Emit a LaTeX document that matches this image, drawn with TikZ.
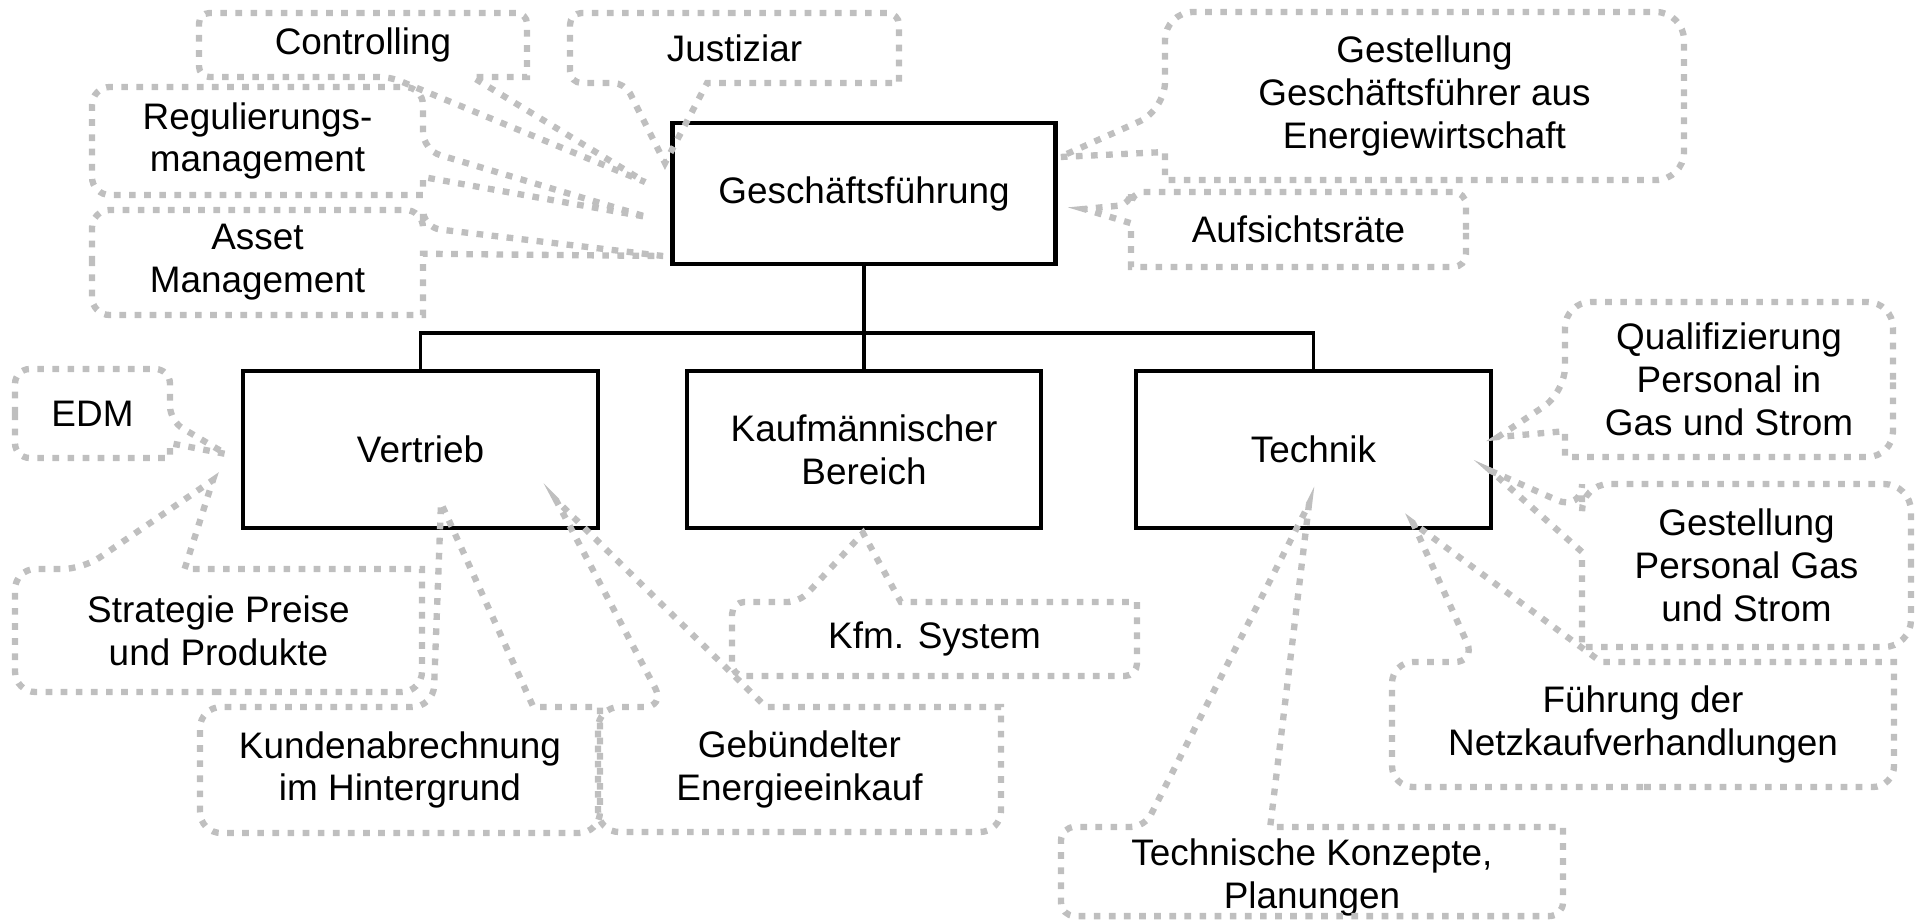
\documentclass[tikz,border=0pt]{standalone}
\usepackage{fontspec}
\setmainfont{Liberation Sans}
\usetikzlibrary{calc}

\tikzset{
  orgbox/.style={draw, line width=1.2pt, align=center, inner sep=0pt, outer sep=0pt},
  tree/.style={line width=1.1pt},
  calltext/.style={align=center, inner sep=0pt, outer sep=0pt},
  callline/.style={draw=black!25, line width=1.8pt, dash pattern=on 1.9pt off 2.4pt},
}

\begin{document}
\begin{tikzpicture}[x=0.1mm, y=-0.1mm, font=\fontsize{10.5}{12.2}\selectfont]
    \useasboundingbox (0,0) rectangle (1918,920);

    % the four boxes of the chart
    \node[orgbox, minimum width=38.3mm, minimum height=14.1mm] (gf) at (864,193.5) {Geschäftsführung};
    \node[orgbox, minimum width=35.5mm, minimum height=15.7mm] (vertrieb) at (420.5,449.5) {Vertrieb};
    \node[orgbox, minimum width=35.4mm, minimum height=15.7mm] (kfm) at (864,449.5) {Kaufmännischer\\Bereich};
    \node[orgbox, minimum width=35.5mm, minimum height=15.7mm] (technik) at (1313.5,449.5) {Technik};

    \draw[tree] (gf.south) -- (kfm.north);
    \draw[tree] (vertrieb.north) -- ++(0,-38) -| (technik.north);

    % callouts round Geschaeftsfuehrung
    \node[calltext, minimum width=32.8mm, minimum height=6.4mm] (ctrl) at (363,45) {Controlling};
    \coordinate (ctrltip) at (645,182);
    \draw[callline] (ctrl.north) [rounded corners=3pt] -| (ctrl.south west)
      -- ($(ctrl.south west)!7/12!(ctrl.south east)$) [sharp corners] -- (ctrltip)
      -- ($(ctrl.south west)!10/12!(ctrl.south east)$) -- (ctrl.south east)
      [rounded corners=3pt] |- (ctrl.north);

    \node[calltext, minimum width=32.9mm, minimum height=7mm] (just) at (734.5,48) {Justiziar};
    \coordinate (justtip) at (665,163);
    \draw[callline] (just.north) [rounded corners=3.3pt] -| (just.south west)
      -- ($(just.south west)!2/12!(just.south east)$) [sharp corners] -- (justtip)
      -- ($(just.south west)!5/12!(just.south east)$) -- (just.south east)
      [rounded corners=3.3pt] |- (just.north);

    \node[calltext, minimum width=33.1mm, minimum height=10.8mm] (reg) at (257.5,141) {Regulierungs-\\management};
    \coordinate (regtip) at (647,217);
    \draw[callline] (reg.west) [rounded corners=5.1pt] |- (reg.north east)
      -- ($(reg.north east)!7/12!(reg.south east)$) [sharp corners] -- (regtip)
      -- ($(reg.north east)!10/12!(reg.south east)$) -- (reg.south east)
      [rounded corners=5.1pt] -| (reg.west);

    \node[calltext, minimum width=33.1mm, minimum height=10.5mm] (asset) at (257.5,262.5) {Asset\\Management};
    \coordinate (assettip) at (663,256);
    \draw[callline] (asset.west) [rounded corners=5pt] |- (asset.north east)
      -- ($(asset.north east)!2/12!(asset.south east)$) [sharp corners] -- (assettip)
      -- ($(asset.north east)!5/12!(asset.south east)$) -- (asset.south east)
      [rounded corners=5pt] -| (asset.west);

    \node[calltext, minimum width=51.9mm, minimum height=16.8mm] (gestgf) at (1424.5,96) {Gestellung\\Geschäftsführer aus\\Energiewirtschaft};
    \coordinate (gestgftip) at (1060,157);
    \draw[callline] (gestgf.east) [rounded corners=8pt] |- (gestgf.north west)
      -- ($(gestgf.north west)!7/12!(gestgf.south west)$) [sharp corners] -- (gestgftip)
      -- ($(gestgf.north west)!10/12!(gestgf.south west)$) -- (gestgf.south west)
      [rounded corners=8pt] -| (gestgf.east);

    \node[calltext, minimum width=33.5mm, minimum height=7.5mm] (aufs) at (1298.5,229.5) {Aufsichtsräte};
    \coordinate (aufstip) at (1084,209);
    \draw[callline] (aufs.east) [rounded corners=3.6pt] |- (aufs.north west)
      -- ($(aufs.north west)!2/12!(aufs.south west)$) [sharp corners] -- (aufstip)
      -- ($(aufs.north west)!5/12!(aufs.south west)$) -- (aufs.south west)
      [rounded corners=3.6pt] -| (aufs.east);

    % callouts round Vertrieb
    \node[calltext, minimum width=15.5mm, minimum height=8.9mm] (edm) at (92.5,413.5) {EDM};
    \coordinate (edmtip) at (226,454);
    \draw[callline] (edm.west) [rounded corners=4.2pt] |- (edm.north east)
      -- ($(edm.north east)!7/12!(edm.south east)$) [sharp corners] -- (edmtip)
      -- ($(edm.north east)!10/12!(edm.south east)$) -- (edm.south east)
      [rounded corners=4.2pt] -| (edm.west);

    \node[calltext, minimum width=40.7mm, minimum height=12.3mm] (strat) at (218.5,630.5) {Strategie Preise\\und Produkte};
    \coordinate (strattip) at (213,480);
    \draw[callline] (strat.south) [rounded corners=5.8pt] -| (strat.north west)
      -- ($(strat.north west)!2/12!(strat.north east)$) [sharp corners] -- (strattip)
      -- ($(strat.north west)!5/12!(strat.north east)$) -- (strat.north east)
      [rounded corners=5.8pt] |- (strat.south);

    \node[calltext, minimum width=40mm, minimum height=12.6mm] (kunden) at (400,770) {Kundenabrechnung\\im Hintergrund};
    \coordinate (kundentip) at (441,503);
    \draw[callline] (kunden.south) [rounded corners=6pt] -| (kunden.north west)
      -- ($(kunden.north west)!7/12!(kunden.north east)$) [sharp corners] -- (kundentip)
      -- ($(kunden.north west)!10/12!(kunden.north east)$) -- (kunden.north east)
      [rounded corners=6pt] |- (kunden.south);

    \node[calltext, minimum width=40.3mm, minimum height=12.5mm] (einkauf) at (799.5,769.5) {Gebündelter\\Energieeinkauf};
    \coordinate (einkauftip) at (556,500);
    \draw[callline] (einkauf.south) [rounded corners=6pt] -| (einkauf.north west)
      -- ($(einkauf.north west)!2/12!(einkauf.north east)$) [sharp corners] -- (einkauftip)
      -- ($(einkauf.north west)!5/12!(einkauf.north east)$) -- (einkauf.north east)
      [rounded corners=6pt] |- (einkauf.south);

    % callout below the kaufmaennische box
    \node[calltext, minimum width=40.5mm, minimum height=7.4mm] (kfmsys) at (934.5,639) {Kfm. System};
    \coordinate (kfmsystip) at (863,533);
    \draw[callline] (kfmsys.south) [rounded corners=3.5pt] -| (kfmsys.north west)
      -- ($(kfmsys.north west)!2/12!(kfmsys.north east)$) [sharp corners] -- (kfmsystip)
      -- ($(kfmsys.north west)!5/12!(kfmsys.north east)$) -- (kfmsys.north east)
      [rounded corners=3.5pt] |- (kfmsys.south);

    % callouts round Technik
    \node[calltext, minimum width=50.2mm, minimum height=8.3mm] (konzept) at (1312,871.5) {\rule{0pt}{11pt}Technische Konzepte,\\Planungen};
    \coordinate (konzepttip) at (1309,504);
    \draw[callline] (konzept.south) [rounded corners=3.9pt] -| (konzept.north west)
      -- ($(konzept.north west)!2/12!(konzept.north east)$) [sharp corners] -- (konzepttip)
      -- ($(konzept.north west)!5/12!(konzept.north east)$) -- (konzept.north east)
      [rounded corners=3.9pt] |- (konzept.south);

    \node[calltext, minimum width=50.2mm, minimum height=12.5mm] (netzkauf) at (1643,724.5) {Führung der\\Netzkaufverhandlungen};
    \coordinate (netzkauftip) at (1413,523);
    \draw[callline] (netzkauf.south) [rounded corners=6pt] -| (netzkauf.north west)
      -- ($(netzkauf.north west)!2/12!(netzkauf.north east)$) [sharp corners] -- (netzkauftip)
      -- ($(netzkauf.north west)!5/12!(netzkauf.north east)$) -- (netzkauf.north east)
      [rounded corners=6pt] |- (netzkauf.south);

    \node[calltext, minimum width=32.8mm, minimum height=15.5mm] (quali) at (1729,379.5) {Qualifizierung\\Personal in\\Gas und Strom};
    \coordinate (qualitip) at (1498,437);
    \draw[callline] (quali.east) [rounded corners=7.3pt] |- (quali.north west)
      -- ($(quali.north west)!7/12!(quali.south west)$) [sharp corners] -- (qualitip)
      -- ($(quali.north west)!10/12!(quali.south west)$) -- (quali.south west)
      [rounded corners=7.3pt] -| (quali.east);

    \node[calltext, minimum width=32.9mm, minimum height=16.3mm] (gestpers) at (1746.5,565.5) {Gestellung\\Personal Gas\\und Strom};
    \coordinate (gestperstip) at (1491,471);
    \draw[callline] (gestpers.east) [rounded corners=7.7pt] |- (gestpers.north west)
      -- ($(gestpers.north west)!2/12!(gestpers.south west)$) [sharp corners] -- (gestperstip)
      -- ($(gestpers.north west)!5/12!(gestpers.south west)$) -- (gestpers.south west)
      [rounded corners=7.7pt] -| (gestpers.east);
\end{tikzpicture}
\end{document}
